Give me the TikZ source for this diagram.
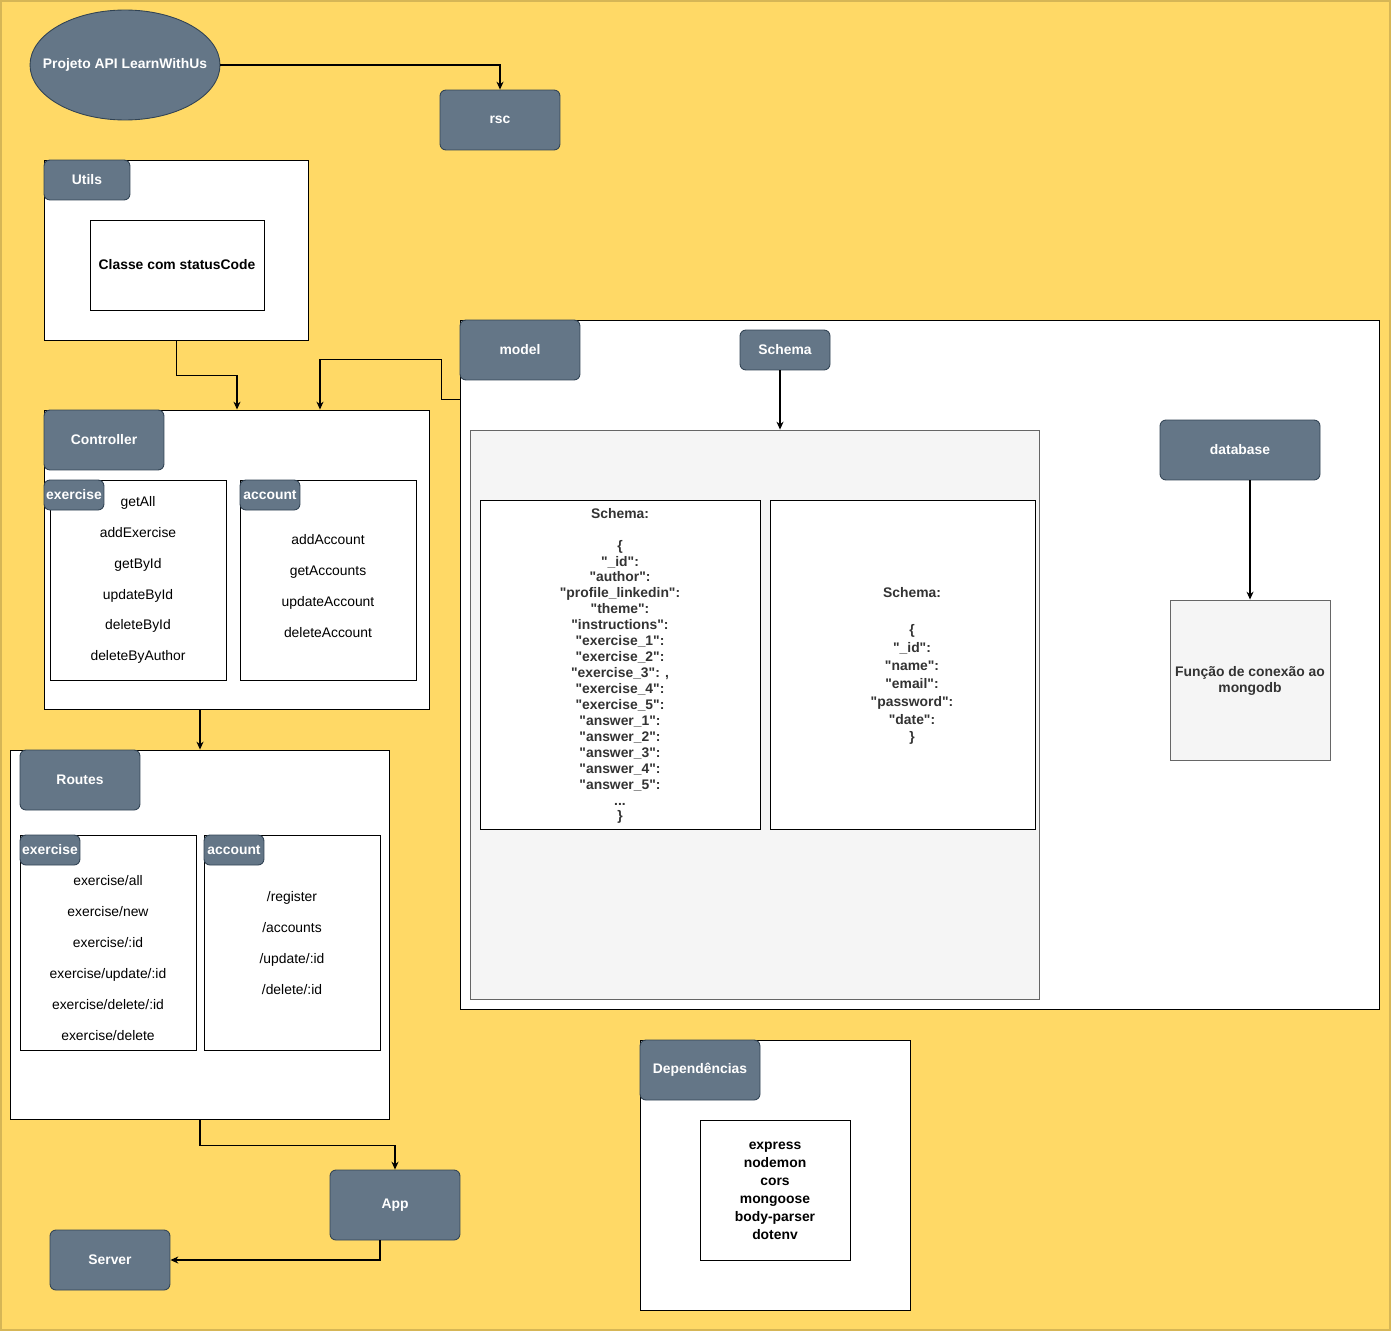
\documentclass[tikz,border=0pt]{standalone}
\usepackage{fontspec}
\setmainfont{Liberation Sans}[Ligatures=TeXOff]
\usetikzlibrary{arrows.meta,shapes.geometric}
\definecolor{bgyellow}{HTML}{FFD966}
\definecolor{bgline}{HTML}{D6B656}
\definecolor{lblfill}{HTML}{647687}
\definecolor{lblline}{HTML}{314354}
\definecolor{greyfill}{HTML}{F5F5F5}
\definecolor{greyline}{HTML}{666666}
\definecolor{darktext}{HTML}{333333}
\newcommand{\fsz}[1]{\fontsize{7.9}{#1}\selectfont}

\begin{document}
\begin{tikzpicture}[x=0.02cm,y=-0.02cm,
    lbl/.style={draw=lblline,fill=lblfill,rounded corners=0.12cm,text=white,
      font=\fsz{9.5}\bfseries,inner sep=0pt,line width=0.5pt},
    cont/.style={draw=black,fill=white,line width=0.55pt,inner sep=0pt},
    greybox/.style={draw=greyline,fill=greyfill,line width=0.55pt,inner sep=0pt},
    txt/.style={align=center,inner sep=0pt},
    link/.style={draw=black,line width=0.6pt,-{Stealth[length=4.5pt,width=4pt]}}]
  \useasboundingbox (0,0) rectangle (1391,1331);
  \fill[bgyellow,draw=bgline,line width=1pt] (1,1) rectangle (1390,1330);

  % top
  \node[lbl,ellipse,minimum width=3.8cm,minimum height=2.2cm] (proj) at (125,65) {\makebox[0pt]{Projeto API LearnWithUs}};
  \node[lbl,minimum width=2.4cm,minimum height=1.2cm] (rsc) at (500,120) {rsc};

  % containers
  \begin{scope}[every node/.style={cont}]
    \node[minimum width=5.3cm,minimum height=3.6cm] (utils) at (176.5,250) {};
    \node[minimum width=7.72cm,minimum height=6cm] (ctrl) at (237,560) {};
    \node[minimum width=18.4cm,minimum height=13.8cm] (model) at (920,665) {};
    \node[minimum width=7.6cm,minimum height=7.4cm] (routes) at (200,935) {};
    \node[minimum width=5.4cm,minimum height=5.4cm] (deps) at (775,1175) {};
  \end{scope}

  % inner boxes
  \begin{scope}[every node/.style={cont}]
    \node[minimum width=3.48cm,minimum height=1.8cm] (classe) at (177,265) {};
    \node[minimum width=3.52cm,minimum height=4cm] (ctrlEx) at (138,580) {};
    \node[minimum width=3.52cm,minimum height=4cm] (ctrlAc) at (328,580) {};
    \node[minimum width=3.52cm,minimum height=4.3cm] (rtEx) at (108,942.5) {};
    \node[minimum width=3.52cm,minimum height=4.3cm] (rtAc) at (292,942.5) {};
    \node[minimum width=3cm,minimum height=2.8cm] (depsList) at (775,1190) {};
  \end{scope}
  \node[greybox,minimum width=11.4cm,minimum height=11.4cm] (schemaArea) at (755,715) {};
  \node[cont,minimum width=5.6cm,minimum height=6.6cm] (schExercise) at (620,665) {};
  \node[cont,minimum width=5.3cm,minimum height=6.6cm] (schAccount) at (902.5,665) {};
  \node[greybox,minimum width=3.2cm,minimum height=3.2cm] (conn) at (1250,680) {};

  % labels
  \begin{scope}[every node/.style={lbl}]
    \node[minimum width=1.72cm,minimum height=0.8cm] (utilsLbl) at (87,180) {Utils};
    \node[minimum width=2.4cm,minimum height=1.2cm] (ctrlLbl) at (104,440) {Controller};
    \node[minimum width=1.2cm,minimum height=0.6cm] (ctrlExLbl) at (74,495) {exercise};
    \node[minimum width=1.2cm,minimum height=0.6cm] (ctrlAcLbl) at (270,495) {account};
    \node[minimum width=2.4cm,minimum height=1.2cm] (modelLbl) at (520,350) {model};
    \node[minimum width=1.8cm,minimum height=0.8cm] (schemaLbl) at (785,350) {Schema};
    \node[minimum width=3.2cm,minimum height=1.2cm] (dbLbl) at (1240,450) {database};
    \node[minimum width=2.4cm,minimum height=1.2cm] (routesLbl) at (80,780) {Routes};
    \node[minimum width=1.2cm,minimum height=0.6cm] (rtExLbl) at (50,850) {exercise};
    \node[minimum width=1.2cm,minimum height=0.6cm] (rtAcLbl) at (234,850) {account};
    \node[minimum width=2.6cm,minimum height=1.4cm] (app) at (395,1205) {App};
    \node[minimum width=2.4cm,minimum height=1.2cm] (server) at (110,1260) {Server};
    \node[minimum width=2.4cm,minimum height=1.2cm] (depsLbl) at (700,1070) {Dependências};
  \end{scope}

  % texts
  \node[txt,font=\fsz{9.5}\bfseries] (classeTxt) at (177,265) {Classe com statusCode};
  \node[txt,font=\fsz{17.58}] (ctrlExTxt) at (138,580) {getAll\\addExercise\\getById\\updateById\\deleteById\\deleteByAuthor};
  \node[txt,font=\fsz{17.58}] (ctrlAcTxt) at (328,586) {addAccount\\getAccounts\\updateAccount\\deleteAccount};
  \node[txt,font=\fsz{17.58}] (rtExTxt) at (108,958) {exercise/all\\exercise/new\\exercise/:id\\exercise/update/:id\\exercise/delete/:id\\exercise/delete};
  \node[txt,font=\fsz{17.58}] (rtAcTxt) at (292,943) {/register\\/accounts\\/update/:id\\/delete/:id};
  \node[txt,text=darktext,font=\fsz{9.07}\bfseries] (schExTxt) at (620,666) {Schema:\\[9.07pt]\{\\"\_id":\\"author":\\"profile\_linkedin":\\"theme":\\"instructions":\\"exercise\_1":\\"exercise\_2":\\"exercise\_3": ,\\"exercise\_4":\\"exercise\_5":\\"answer\_1":\\"answer\_2":\\"answer\_3":\\"answer\_4":\\"answer\_5":\\...\\\}};
  \node[txt,text=darktext,font=\fsz{10.2}\bfseries] (schAcTxt) at (912,666) {Schema:\\[11pt]\{\\"\_id":\\"name":\\"email":\\"password":\\"date":\\\}};
  \node[txt,text=darktext,font=\fsz{9.2}\bfseries] (connTxt) at (1250,681) {Função de conexão ao\\mongodb};
  \node[txt,font=\fsz{10.2}\bfseries] (depsTxt) at (775,1191) {express\\nodemon\\cors\\mongoose\\body-parser\\dotenv};

  % connectors
  \draw[link] (proj) -| (rsc);
  \draw[link] (utils.south) -- ++(0,35) -| (ctrl.north);
  \draw[link] (model.north west) ++(0,80) -- ++(-18,0) -- ++(0,-40) -| ([xshift=1.66cm]ctrl.north);
  \draw[link] ([xshift=-0.1cm]schemaLbl.south) -- ([xshift=-0.1cm]schemaLbl.south |- schemaArea.north);
  \draw[link] (conn.north |- dbLbl.south) -- (conn.north);
  \draw[link] (routes.north |- ctrl.south) -- (routes.north);
  \draw[link] (routes.south) -- ++(0,25) -| (app.north);
  \draw[link] ([xshift=-0.3cm]app.south) |- (server.east);
\end{tikzpicture}
\end{document}
